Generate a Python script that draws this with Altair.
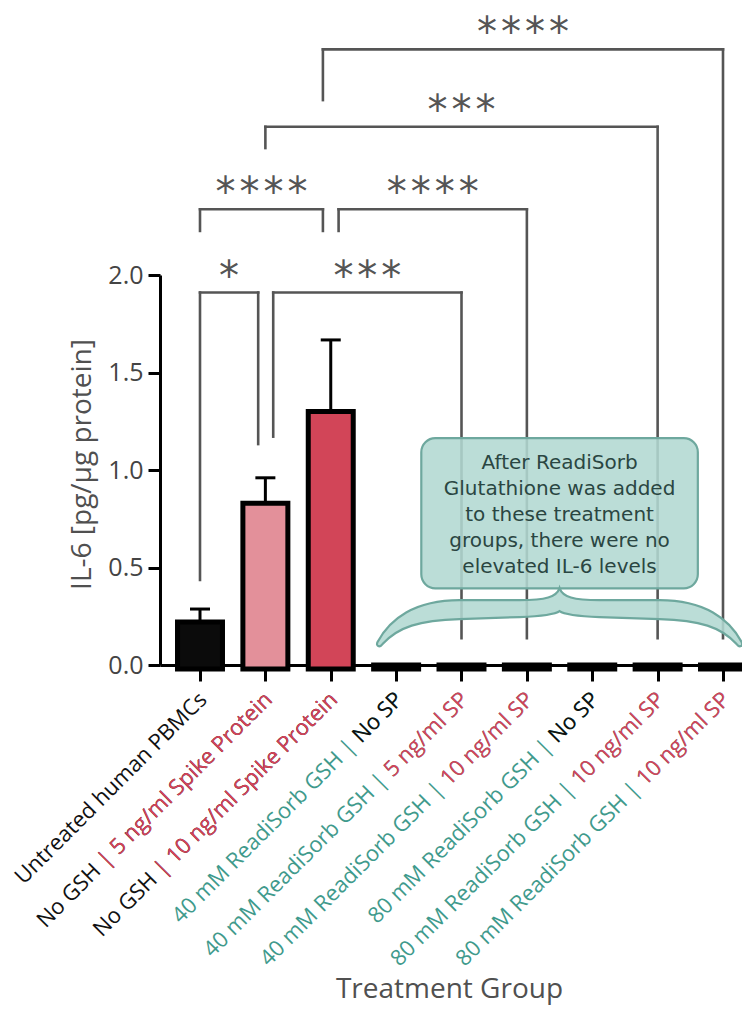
import altair as alt
import pandas as pd

# ---------------- data ----------------
categories = [
    "Untreated human PBMCs",
    "No GSH | 5 ng/ml Spike Protein",
    "No GSH | 10 ng/ml Spike Protein",
    "40 mM ReadiSorb GSH | No SP",
    "40 mM ReadiSorb GSH | 5 ng/ml SP",
    "40 mM ReadiSorb GSH | 10 ng/ml SP",
    "80 mM ReadiSorb GSH | No SP",
    "80 mM ReadiSorb GSH | 10 ng/ml SP",
    "80 mM ReadiSorb GSH | 10 ng/ml SP",
]
label_tail = [
    "",
    "| 5 ng/ml Spike Protein",
    "| 10 ng/ml Spike Protein",
    "No SP",
    "5 ng/ml SP",
    "10 ng/ml SP",
    "No SP",
    "10 ng/ml SP",
    "10 ng/ml SP",
]
head_role = ["control", "control", "control", "gsh", "gsh", "gsh", "gsh", "gsh", "gsh"]
tail_role = ["control", "spike", "spike", "control", "spike", "spike", "control", "spike", "spike"]
bar_group = ["untreated", "spike5", "spike10", "gsh", "gsh", "gsh", "gsh", "gsh", "gsh"]
il6_mean = [0.22, 0.83, 1.30, 0, 0, 0, 0, 0, 0]
il6_err = [0.067, 0.13, 0.367, 0, 0, 0, 0, 0, 0]

# significance brackets (group index, leg nudge, bracket level, leg ends)
br_left = [0, 1, 0, 2, 1, 2]
br_left_nudge = [0, 0.12, 0, 0.12, 0, -0.12]
br_right = [1, 4, 2, 5, 7, 8]
br_right_nudge = [-0.11, 0, -0.12, 0, 0, 0]
br_level = [1.91, 1.91, 2.337, 2.337, 2.76, 3.157]
br_left_end = [0.436, 1.171, 2.226, 2.226, 2.651, 2.897]
br_right_end = [1.133, 0.138, 2.226, 0.138, 0.138, 0.138]
br_label = ["*", "***", "****", "****", "***", "****"]

callout_lines = [
    "After ReadiSorb",
    "Glutathione was added",
    "to these treatment",
    "groups, there were no",
    "elevated IL-6 levels",
]
callout_groups = [3, 8]  # groups covered by the callout brace

# ---------------- styling ----------------
FONT = "Open Sans"
W, H = 582, 390
PX_PER_GROUP = 65.375
x_lo = -40 / PX_PER_GROUP
xscale = alt.Scale(domain=[x_lo, x_lo + W / PX_PER_GROUP], nice=False, zero=False)
yscale = alt.Scale(domain=[0, 2], nice=False)

role_scale = alt.Scale(domain=["control", "spike", "gsh"], range=["#111111", "#d4435a", "#3f9a8c"])
bar_scale = alt.Scale(domain=["untreated", "spike5", "spike10", "gsh"],
                      range=["#0b0b0b", "#e3909a", "#d24558", "#0b0b0b"])

df = pd.DataFrame({
    "idx": list(range(len(categories))),
    "category": categories,
    "tail": label_tail,
    "head_role": head_role,
    "tail_role": tail_role,
    "group": bar_group,
    "mean": il6_mean,
    "err": il6_err,
})
df["top"] = df["mean"] + df["err"]

xaxis = alt.Axis(values=list(range(len(categories))), labels=False, tickSize=16, tickWidth=3,
                 tickColor="black", domainColor="black", domainWidth=3, grid=False,
                 title="Treatment Group", titleFont=FONT, titleFontSize=28, titleFontWeight="normal",
                 titleColor="#505050", titleX=289, titleY=332, titleBaseline="alphabetic",
                 titleAlign="center")
yaxis = alt.Axis(values=[0, 0.5, 1, 1.5, 2], format=".1f", tickSize=12, tickWidth=3,
                 tickColor="black", domainColor="black", domainWidth=3,
                 labelFont=FONT, labelFontSize=25, labelColor="#444444", labelPadding=5,
                 gridColor="white", gridWidth=2.5,
                 title="IL-6 [pg/µg protein]", titleFont=FONT, titleFontSize=28,
                 titleFontWeight="normal", titleColor="#505050", titleX=-70, titleY=H / 2 - 6,
                 titleAngle=270, titleBaseline="alphabetic", titleAlign="center")

base = alt.Chart(df)

bars = base.transform_calculate(
    xa="datum.idx - 0.344", xb="datum.idx + 0.344"
).mark_bar(stroke="black", strokeWidth=5).encode(
    x=alt.X("xa:Q", scale=xscale, axis=xaxis),
    x2="xb:Q",
    y=alt.Y("mean:Q", scale=yscale, axis=yaxis),
    y2=alt.value(H + 4),
    color=alt.Color("group:N", scale=bar_scale, legend=None),
)

err_df = df[df["err"] > 0]
err_line = alt.Chart(err_df).mark_rule(color="black", strokeWidth=3).encode(
    x=alt.X("idx:Q", scale=xscale), y=alt.Y("mean:Q", scale=yscale), y2="top:Q")
err_cap = alt.Chart(err_df).transform_calculate(
    ca="datum.idx - 0.153", cb="datum.idx + 0.153"
).mark_rule(color="black", strokeWidth=3).encode(
    x=alt.X("ca:Q", scale=xscale), x2="cb:Q", y=alt.Y("top:Q", scale=yscale))

# bracket segments
segs = []
marks = []
for i in range(len(br_label)):
    xl = br_left[i] + br_left_nudge[i]
    xr = br_right[i] + br_right_nudge[i]
    lv = br_level[i]
    segs.append({"x": xl, "x2": xr, "y": lv, "y2": lv})
    segs.append({"x": xl, "x2": xl, "y": lv, "y2": br_left_end[i]})
    segs.append({"x": xr, "x2": xr, "y": lv, "y2": br_right_end[i]})
    marks.append({"x": (xl + xr) / 2, "y": lv, "label": "\u200a".join(br_label[i])})
seg_df = pd.DataFrame(segs)
mark_df = pd.DataFrame(marks)

brackets = alt.Chart(seg_df).mark_rule(color="#555555", strokeWidth=2.6, strokeCap="square").encode(
    x=alt.X("x:Q", scale=xscale), x2="x2:Q", y=alt.Y("y:Q", scale=yscale), y2="y2:Q")
stars = alt.Chart(mark_df).mark_text(font="DejaVu Sans", fontSize=40, color="#555555",
                                     baseline="alphabetic", dy=-3).encode(
    x=alt.X("x:Q", scale=xscale), y=alt.Y("y:Q", scale=yscale), text="label:N")

# callout box + brace
mid = (callout_groups[0] + callout_groups[1]) / 2
call_df = pd.DataFrame({"xc": [mid], "yt": [1.163], "yb": [0.393], "ytext": [1.034],
                        "ybrace": [0.256], "text": ["\n".join(callout_lines)]})
box = alt.Chart(call_df).transform_calculate(
    xa="datum.xc - 2.115", xb="datum.xc + 2.115"
).mark_rect(fill="#b2d8d2", fillOpacity=0.88, stroke="#6ea89e", strokeWidth=2.2,
            cornerRadius=14).encode(
    x=alt.X("xa:Q", scale=xscale), x2="xb:Q", y=alt.Y("yt:Q", scale=yscale), y2="yb:Q")

half = 185.0
brace_pts = [
    ("M", [(-182, 27)]),
    ("C", [(-170, 4), (-145, -15), (-100, -15)]),
    ("L", [(-40, -15)]),
    ("C", [(-14, -15), (-3, -18), (0, -27)]),
    ("C", [(3, -18), (14, -15), (40, -15)]),
    ("L", [(100, -15)]),
    ("C", [(145, -15), (170, 4), (182, 27)]),
    ("C", [(184, 31), (180, 33), (177, 29)]),
    ("C", [(162, 12), (140, 5), (100, 4)]),
    ("L", [(40, 2)]),
    ("C", [(16, 1), (4, -1), (0, -4)]),
    ("C", [(-4, -1), (-16, 1), (-40, 2)]),
    ("L", [(-100, 4)]),
    ("C", [(-140, 5), (-162, 12), (-177, 29)]),
    ("C", [(-180, 33), (-184, 31), (-182, 27)]),
]
brace_path = " ".join(
    cmd + " " + " ".join(f"{px / half:.4f},{py / half:.4f}" for px, py in pts)
    for cmd, pts in brace_pts
) + " Z"

brace = alt.Chart(call_df).mark_point(
    shape=brace_path, size=(2 * half) ** 2, filled=True, fill="#b2d8d2", fillOpacity=0.88,
    stroke="#6ea89e", strokeWidth=2.2, opacity=1
).encode(x=alt.X("xc:Q", scale=xscale), y=alt.Y("ybrace:Q", scale=yscale))

box_text = alt.Chart(call_df).mark_text(font="DejaVu Sans", fontSize=20, color="#2a4642",
                                        lineHeight=25.8, lineBreak="\n", baseline="middle",
                                        align="center").encode(
    x=alt.X("xc:Q", scale=xscale), y=alt.Y("ytext:Q", scale=yscale), text="text:N")

# x tick labels (two-colour, rotated)
lab_kw = dict(font=FONT, fontSize=22, angle=315, align="right", baseline="alphabetic", dx=5.7, dy=5.7)
lab_head = base.mark_text(**lab_kw).encode(
    x=alt.X("idx:Q", scale=xscale), y=alt.value(H + 36), text="category:N",
    color=alt.Color("head_role:N", scale=role_scale, legend=None))
lab_tail = base.transform_filter("datum.tail != ''").mark_text(**lab_kw).encode(
    x=alt.X("idx:Q", scale=xscale), y=alt.value(H + 36), text="tail:N",
    color=alt.Color("tail_role:N", scale=role_scale, legend=None))

chart = alt.layer(
    bars, err_line, err_cap, brackets, stars, box, brace, box_text, lab_head, lab_tail
).resolve_scale(color="independent").properties(
    width=W, height=H,
    padding={"left": 152, "top": 267, "right": 0, "bottom": 340},
    autosize=alt.AutoSizeParams(type="none"),
).configure_view(fill="#f2f3f5", stroke=None).configure(background="white")

chart.save("out.html", embed_options={"renderer": "svg", "actions": False})
